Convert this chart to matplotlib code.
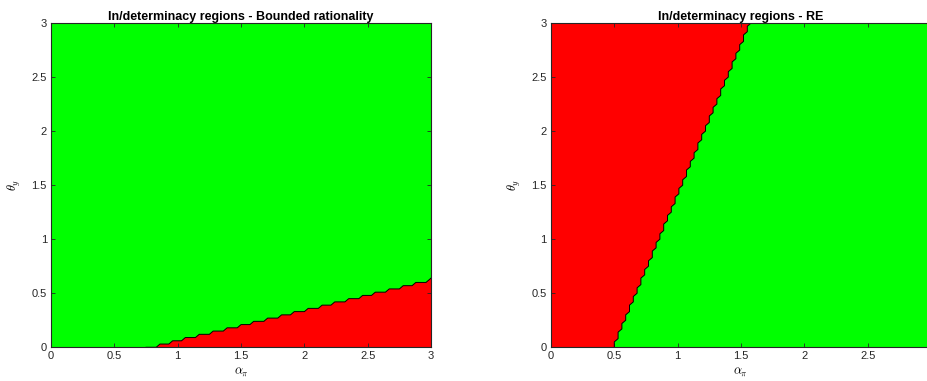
import matplotlib
matplotlib.use("Agg")
import matplotlib.pyplot as plt

plt.rcParams['font.family'] = ['Liberation Sans', 'DejaVu Sans']
plt.rcParams['mathtext.fontset'] = 'cm'

# step where the red (indeterminate) region begins - bounded rationality
br_alpha = [0.75, 0.86, 0.96, 1.06, 1.17, 1.28, 1.39, 1.50, 1.60, 1.71, 1.82,
            1.92, 2.03, 2.14, 2.24, 2.35, 2.46, 2.56, 2.67, 2.78, 2.88, 2.99]
br_theta = [0.00, 0.03, 0.06, 0.09, 0.12, 0.15, 0.18, 0.21, 0.24, 0.27, 0.30,
            0.33, 0.36, 0.39, 0.42, 0.45, 0.48, 0.51, 0.54, 0.57, 0.60, 0.63]

# boundary for rational expectations
re_alpha = [0.50, 0.53, 0.56, 0.59, 0.62, 0.65, 0.68, 0.71, 0.74, 0.77, 0.80,
            0.83, 0.86, 0.89, 0.92, 0.95, 0.98, 1.01, 1.04, 1.07, 1.10, 1.13,
            1.16, 1.19, 1.22, 1.25, 1.28, 1.31, 1.34, 1.37, 1.40, 1.43, 1.46,
            1.49, 1.52, 1.55, 1.58]
re_theta = [0.00, 0.08, 0.17, 0.25, 0.33, 0.42, 0.50, 0.58, 0.67, 0.75, 0.83,
            0.92, 1.00, 1.08, 1.17, 1.25, 1.33, 1.42, 1.50, 1.58, 1.67, 1.75,
            1.83, 1.92, 2.00, 2.08, 2.17, 2.25, 2.33, 2.42, 2.50, 2.58, 2.67,
            2.75, 2.83, 2.92, 3.00]

ticks = [0, 0.5, 1, 1.5, 2, 2.5, 3]
tick_labels = ['0', '0.5', '1', '1.5', '2', '2.5', '3']
green = (0, 1, 0)
red = (1, 0, 0)
cell = 0.03
txt = (0.15, 0.15, 0.15)


def style(ax, title):
    ax.set_xlim(0, 3)
    ax.set_ylim(0, 3)
    ax.set_xticks(ticks)
    ax.set_yticks(ticks)
    ax.set_xticklabels(tick_labels)
    ax.set_yticklabels(tick_labels)
    ax.tick_params(direction='in', top=True, right=True, length=3, width=0.6,
                   labelsize=8, colors=txt, pad=3)
    for s in ax.spines.values():
        s.set_linewidth(0.8)
        s.set_color(txt)
    ax.set_title(title, fontsize=9, fontweight='bold', pad=2)
    ax.set_xlabel(r'$\alpha_\pi$', fontsize=9, labelpad=3)
    ax.set_ylabel(r'$\theta_y$', fontsize=9, labelpad=6)


fig = plt.figure(figsize=(9.28, 3.81), dpi=100)

# left panel
ax1 = fig.add_axes([0.055, 0.0885, 0.4095, 0.851])
ax1.set_facecolor(green)
bx, by = [br_alpha[0]], [br_theta[0]]
for k in range(1, len(br_alpha)):
    bx += [br_alpha[k] - cell, br_alpha[k]]
    by += [br_theta[k - 1], br_theta[k]]
bx.append(3)
by.append(br_theta[-1] + 0.01)
ax1.fill(bx + [3], by + [0], color=red, lw=0)
ax1.plot(bx, by, color='k', lw=0.7)
style(ax1, 'In/determinacy regions - Bounded rationality')

# right panel
ax2 = fig.add_axes([0.5937, 0.0885, 0.4095, 0.851])
ax2.set_facecolor(green)
rx, ry = [re_alpha[0]], [re_theta[0]]
for k in range(1, len(re_alpha)):
    rx += [re_alpha[k - 1], re_alpha[k]]
    ry += [re_theta[k] - cell, re_theta[k]]
ax2.fill([0] + rx + [0], [0] + ry + [3], color=red, lw=0)
ax2.plot(rx, ry, color='k', lw=0.7)
style(ax2, 'In/determinacy regions - RE')

fig.savefig('out.png', dpi=100)
